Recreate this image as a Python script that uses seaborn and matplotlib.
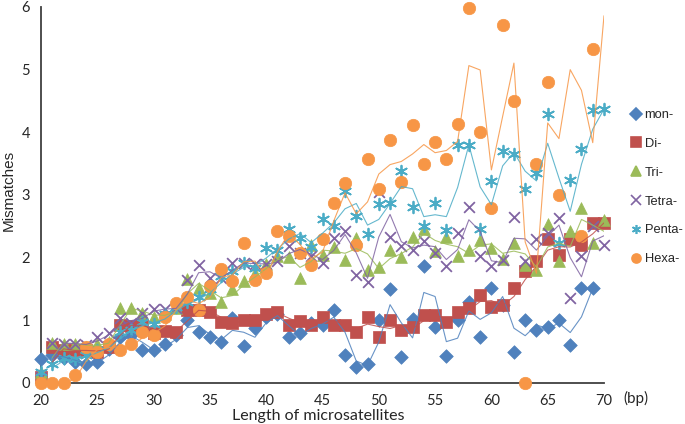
import numpy as np
import pandas as pd
import matplotlib
matplotlib.use("Agg")
import matplotlib.pyplot as plt
from matplotlib.lines import Line2D
import seaborn as sns

# repeat length (bp)
lengths = list(range(20, 71))

# mismatches per repeat class (nan = no point)
mon = [0.39, 0.44, 0.40, 0.33, 0.30, 0.34, 0.55, 0.74, 0.77, 0.53,
       0.53, 0.63, 0.76, 1.01, 0.82, 0.73, 0.65, 1.03, 0.59, 0.87,
       1.05, 1.10, 0.73, 0.79, 0.95, 0.93, 1.17, 0.45, 0.25, 0.31,
       1.00, 1.50, 0.42, 1.02, 1.87, 0.89, 0.43, 1.00, 1.30, 0.73,
       1.51, 1.25, 0.50, 1.01, 0.84, 0.90, 1.01, 0.60, 1.51, 1.51, np.nan]
di = [0.10, 0.57, 0.52, 0.52, 0.52, 0.50, 0.58, 0.93, 0.91, 0.93,
      0.80, 0.83, 0.82, 1.16, 1.16, 1.13, 0.97, 0.96, 1.01, 1.01,
      1.10, 1.14, 0.93, 0.99, 0.93, 1.06, 0.93, 0.92, 0.82, 1.06,
      0.74, 1.00, 0.84, 0.90, 1.09, 1.08, 0.97, 1.14, 1.19, 1.41,
      1.22, 1.25, 1.51, 1.79, 1.94, 2.30, 2.05, 2.29, 2.21, 2.55, 2.56]
tri = [0.17, 0.64, 0.63, 0.63, 0.58, 0.62, 0.65, 1.19, 1.19, 1.11,
       1.06, 1.10, 1.19, 1.66, 1.52, 1.43, 1.29, 1.50, 1.63, 1.75,
       1.90, 2.03, 2.01, 1.68, 2.20, 2.04, 2.17, 1.97, 2.32, 1.80,
       1.85, 2.12, 2.01, 2.33, 2.45, 2.10, 2.33, 2.02, 2.12, 2.28,
       2.16, 1.98, 2.23, 1.89, 1.81, 2.53, 1.94, 2.42, 2.80, 2.24, 2.60]
tetra = [0.10, 0.64, 0.63, 0.63, 0.60, 0.74, 0.79, 1.04, 0.95, 1.11,
         1.18, 1.18, 1.20, 1.64, 1.88, 1.67, 1.68, 1.92, 1.91, 1.90,
         1.90, 1.95, 2.18, 2.08, 2.03, 1.91, 2.32, 2.42, 1.73, 1.61,
         3.05, 2.33, 2.18, 2.13, 2.27, 2.08, 1.86, 2.40, 2.81, 2.03,
         1.87, 1.97, 2.65, 1.95, 2.29, 2.40, 2.64, 1.36, 2.03, 2.50, 2.20]
penta = [0.17, 0.31, 0.40, 0.38, 0.45, 0.52, 0.60, 0.81, 0.85, 0.98,
         0.94, 1.10, 1.21, 1.30, 1.37, 1.50, 1.70, 1.78, 1.91, 1.84,
         2.15, 2.13, 2.46, 2.31, 2.17, 2.61, 2.50, 3.06, 2.67, 2.37,
         2.85, 2.88, 3.39, 2.81, 2.50, 2.87, 2.44, 3.80, 3.80, 2.46,
         3.23, 3.70, 3.66, 3.10, 3.35, 4.30, 2.24, 3.24, 3.74, 4.36, 4.38]
hexa = [0.00, 0.00, 0.00, 0.12, 0.57, 0.50, 0.63, 0.53, 0.63, 0.81,
        0.77, 1.05, 1.27, 1.37, 1.17, 1.55, 1.82, 1.63, 2.24, 1.65,
        1.76, 2.43, 2.34, 2.08, 1.89, 2.29, 2.88, 3.19, 2.21, 3.57,
        3.10, 3.87, 3.20, 4.11, 3.50, 3.85, 3.57, 4.14, 5.99, 4.00,
        2.80, 5.71, 4.50, 0.00, 3.50, 4.80, 3.00, 7.00, 2.34, 5.33, 6.39]

names = ["mon-", "Di-", "Tri-", "Tetra-", "Penta-", "Hexa-"]
colors = ["#4F81BD", "#C0504D", "#9BBB59", "#8064A2", "#4BACC6", "#F79646"]
markers = ["D", "s", "^", "x", (6, 2, 0), "o"]
msizes = [48, 70, 72, 60, 70, 80]

df = pd.DataFrame({"length": lengths, "mon-": mon, "Di-": di, "Tri-": tri,
                   "Tetra-": tetra, "Penta-": penta, "Hexa-": hexa})
long = df.melt(id_vars="length", var_name="repeat", value_name="mismatches")

sns.set_style("white")
plt.rcParams["font.family"] = ["Liberation Sans", "DejaVu Sans"]

fig = plt.figure(figsize=(6.85, 4.24), dpi=100)
ax = fig.add_axes([41 / 685, 41 / 424, 563 / 685, 376 / 424])

for name, col, mk, sz in zip(names, colors, markers, msizes):
    sub = long[long["repeat"] == name].copy()
    # 2-point moving average trendline, as in the original chart
    sub["trend"] = sub["mismatches"].rolling(2).mean()
    sns.lineplot(data=sub, x="length", y="trend", color=col, lw=0.8,
                 alpha=0.85, ax=ax, zorder=4, legend=False)
    shown = sub[sub["mismatches"] <= 6]
    filled = mk not in ("x",) and not isinstance(mk, tuple)
    kw = dict(edgecolor=col, linewidth=0.5) if filled else dict(linewidth=1.3)
    sns.scatterplot(data=shown, x="length", y="mismatches", marker=mk, s=sz,
                    color=col, ax=ax, clip_on=False, zorder=3, legend=False, **kw)

ax.set_xlim(20, 70)
ax.set_ylim(0, 6)
ax.set_xticks(range(20, 71, 5))
ax.set_yticks(range(0, 7))
ax.tick_params(length=0, labelsize=10.5, pad=8)
for lab in ax.get_xticklabels() + ax.get_yticklabels():
    lab.set_family(["Lato", "DejaVu Sans"])
ax.grid(False)
for s in ["top", "right"]:
    ax.spines[s].set_visible(False)
for s in ["left", "bottom"]:
    ax.spines[s].set_color("#404040")
    ax.spines[s].set_linewidth(1.3)

ax.set_xlabel("Length of microsatellites", fontsize=11.5,
              family=["Lato", "DejaVu Sans"], va="center")
ax.set_ylabel("Mismatches", fontsize=11, va="center", ha="center")
ax.xaxis.set_label_coords(0.492, -0.087)
ax.yaxis.set_label_coords(-0.057, 0.513)
fig.text(636 / 685, 1 - 398 / 424, "(bp)", ha="center", va="center",
         fontsize=11, family=["Lato", "DejaVu Sans"])

handles = []
for name, col, mk in zip(names, colors, markers):
    handles.append(Line2D([], [], linestyle="none", marker=mk, color=col,
                          markersize=6.5, markeredgewidth=1.2, label=name))
fig.legend(handles=handles, loc="upper left",
           bbox_to_anchor=(631 / 685, 1 - 109 / 424), frameon=False,
           fontsize=9.3, handlelength=0.8, handletextpad=0.25,
           labelspacing=1.3, borderpad=0, borderaxespad=0)

fig.savefig("out.png", dpi=100)
